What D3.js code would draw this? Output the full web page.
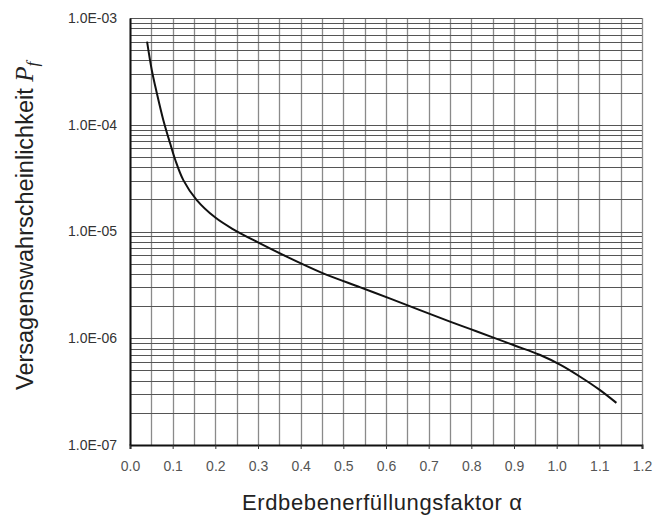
<!DOCTYPE html>
<html>
<head>
<meta charset="utf-8">
<script src="https://cdn.jsdelivr.net/npm/d3@7"></script>
<style>
  body { margin: 0; background: #fff; }
  text { font-family: "Liberation Sans", Arial, sans-serif; }
</style>
</head>
<body>
<script>
// values
var alpha = [0.04, 0.051, 0.063, 0.078, 0.094, 0.106, 0.125, 0.156, 0.2, 0.24, 0.3, 0.36, 0.45, 0.54, 0.61, 0.75, 0.81, 0.9, 0.96, 1.01, 1.055, 1.1, 1.14];
var pf = [6.0e-4, 3.26e-4, 1.97e-4, 1.11e-4, 6.7e-5, 4.7e-5, 3.03e-5, 1.98e-5, 1.35e-5, 1.06e-5, 7.9e-6, 6.0e-6, 4.1e-6, 3.0e-6, 2.35e-6, 1.43e-6, 1.17e-6, 8.6e-7, 7.0e-7, 5.6e-7, 4.36e-7, 3.3e-7, 2.48e-7];

var xTicks = [0, 0.1, 0.2, 0.3, 0.4, 0.5, 0.6, 0.7, 0.8, 0.9, 1.0, 1.1, 1.2];
var yTicks = [1e-7, 1e-6, 1e-5, 1e-4, 1e-3];
var yTickLabels = ["1.0E-07", "1.0E-06", "1.0E-05", "1.0E-04", "1.0E-03"];

var W = 653, H = 515;
var mLeft = 130, mRight = 642, mTop = 18, mBottom = 445;

var svg = d3.select("body").append("svg")
  .attr("width", W)
  .attr("height", H);

var x = d3.scaleLinear().domain([0, 1.2]).range([mLeft, mRight]);
var y = d3.scaleLog().domain([1e-7, 1e-3]).range([mBottom, mTop]);

// vertical grid every 0.05
var xGrid = d3.range(0, 25).map(d => d * 0.05);
svg.append("g").selectAll("line")
  .data(xGrid)
  .enter().append("line")
  .attr("x1", d => Math.round(x(d)) + 0.5)
  .attr("x2", d => Math.round(x(d)) + 0.5)
  .attr("y1", mTop)
  .attr("y2", mBottom)
  .attr("stroke", "#8a8a8a")
  .attr("stroke-width", 1.3);

// horizontal grid, log minors
var yGrid = [];
yTicks.slice(0, 4).forEach(function(p) {
  for (var k = 1; k <= 9; k++) yGrid.push(p * k);
});
yGrid.push(1e-3);
svg.append("g").selectAll("line")
  .data(yGrid)
  .enter().append("line")
  .attr("x1", mLeft)
  .attr("x2", mRight)
  .attr("y1", d => Math.round(y(d)) + 0.5)
  .attr("y2", d => Math.round(y(d)) + 0.5)
  .attr("stroke", "#555")
  .attr("stroke-width", 1.2);

// axes
var xAxis = d3.axisBottom(x).tickValues(xTicks).tickSize(4).tickFormat(d3.format(".1f"));
var gx = svg.append("g")
  .attr("transform", "translate(0," + mBottom + ")")
  .call(xAxis);
gx.select(".domain").attr("stroke", "#111").attr("stroke-width", 2);
gx.selectAll(".tick line").attr("stroke", "#333");
gx.selectAll(".tick text")
  .attr("y", 16)
  .attr("fill", "#555")
  .style("font-size", "14px");

var yAxis = d3.axisLeft(y).tickValues(yTicks).tickSize(0)
  .tickFormat((d, i) => yTickLabels[i]);
var gy = svg.append("g")
  .attr("transform", "translate(" + mLeft + ",0)")
  .call(yAxis);
gy.select(".domain").attr("stroke", "#111").attr("stroke-width", 2);
gy.selectAll(".tick text")
  .attr("x", -13)
  .attr("fill", "#333")
  .style("font-size", "14px");

// curve
var line = d3.line()
  .x((d, i) => x(alpha[i]))
  .y(d => y(d))
  .curve(d3.curveCatmullRom.alpha(0.5));
svg.append("path")
  .datum(pf)
  .attr("d", line)
  .attr("fill", "none")
  .attr("stroke", "#111")
  .attr("stroke-width", 2);

// axis titles
svg.append("text")
  .attr("x", 382)
  .attr("y", 510)
  .attr("text-anchor", "middle")
  .attr("fill", "#222")
  .attr("textLength", 280)
  .attr("lengthAdjust", "spacing")
  .style("font-size", "22px")
  .text("Erdbebenerfüllungsfaktor α");

var yt = svg.append("text")
  .attr("transform", "translate(33,390) rotate(-90)")
  .attr("text-anchor", "start")
  .attr("fill", "#222")
  .style("font-size", "23.5px");
yt.append("tspan").text("Versagenswahrscheinlichkeit ");
yt.append("tspan").attr("font-family", "'Liberation Serif', serif").style("font-style", "italic").style("font-size", "25px").text("P");
yt.append("tspan").attr("font-family", "'Liberation Serif', serif").style("font-style", "italic").style("font-size", "17px").attr("dy", 5).text("f");
</script>
</body>
</html>
